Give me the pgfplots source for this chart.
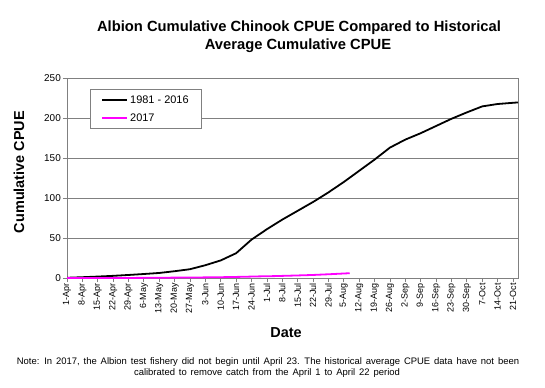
\documentclass[border=0pt]{standalone}
\usepackage{fontspec}
\setmainfont{Liberation Sans}
\usepackage{pgfplots}
\pgfplotsset{compat=1.18}
\definecolor{gridgray}{RGB}{128,128,128}
\definecolor{mag}{RGB}{255,0,255}
\begin{document}
\begin{tikzpicture}
\path[use as bounding box] (0bp,0bp) rectangle (545bp,-388bp);
\begin{axis}[
  at={(67bp,-278bp)}, anchor=south west,
  scale only axis, width=451bp, height=200bp,
  xmin=0, xmax=205.3, ymin=0, ymax=250,
  xtick={0,7,...,203},
  xticklabels={1-Apr,8-Apr,15-Apr,22-Apr,29-Apr,6-May,13-May,20-May,27-May,3-Jun,10-Jun,17-Jun,24-Jun,1-Jul,8-Jul,15-Jul,22-Jul,29-Jul,5-Aug,12-Aug,19-Aug,26-Aug,2-Sep,9-Sep,16-Sep,23-Sep,30-Sep,7-Oct,14-Oct,21-Oct},
  ytick={0,50,...,250},
  x tick label style={rotate=90, anchor=east, font=\fontsize{9}{10}\selectfont, inner sep=1bp},
  y tick label style={font=\fontsize{10}{11}\selectfont, inner sep=2bp},
  /pgf/number format/assume math mode=true,
  tick align=outside, xtick pos=left, ytick pos=left,
  major tick length=4bp,
  tick style={gridgray, line width=0.8bp},
  axis line style={gridgray, line width=0.8bp},
  ymajorgrids, grid style={gridgray, line width=0.8bp},
  legend style={at={(0.051,0.945)}, anchor=north west, draw=gridgray, line width=0.8bp,
    font=\fontsize{11}{13}\selectfont, row sep=5bp, inner xsep=11bp, inner ysep=4bp},
  legend cell align=left,
  legend image code/.code={\draw[#1] (0bp,0bp) -- (25bp,0bp);},
]
\addplot[black, line width=1.8bp] coordinates {
(0,0.3) (7,1) (14,1.8) (21,2.7) (28,3.8) (35,5) (42,6.3) (49,8.5) (56,11)
(63,16) (70,22) (77,31) (84,48) (91,61) (98,73) (105,84) (112,95) (119,107)
(126,120) (133,134) (140,148) (147,163) (154,173) (161,181) (168,190)
(175,199) (182,207) (189,214.5) (196,217.5) (203,219) (205.3,219.5)};
\addlegendentry{1981 - 2016}
\addplot[mag, line width=1.8bp] coordinates {
(0,0) (22,0) (30,0.1) (40,0.3) (50,0.5) (60,0.7) (70,1.0) (80,1.5) (87,2.0)
(95,2.4) (105,3.2) (112,3.8) (120,4.8) (128.7,6.0)};
\addlegendentry{2017}
\end{axis}
\node[anchor=base, font=\bfseries\fontsize{14.8}{17}\selectfont, inner sep=0pt] at (299bp,-31.7bp) {Albion Cumulative Chinook CPUE Compared to Historical};
\node[anchor=base, font=\bfseries\fontsize{14.8}{17}\selectfont, inner sep=0pt] at (298bp,-49bp) {Average Cumulative CPUE};
\node[rotate=90, font=\bfseries\fontsize{14.5}{16}\selectfont, inner sep=0pt] at (19bp,-172bp) {Cumulative CPUE};
\node[font=\bfseries\fontsize{14.5}{16}\selectfont, inner sep=0pt] at (286bp,-333bp) {Date};
\node[font=\fontsize{9.5}{11}\selectfont, inner sep=0pt] at (268bp,-361.7bp) {\spaceskip=3.9bp\relax Note: In 2017, the Albion test fishery did not begin until April 23. The historical average CPUE data have not been};
\node[font=\fontsize{9.5}{11}\selectfont, inner sep=0pt] at (267bp,-373bp) {\spaceskip=3.9bp\relax calibrated to remove catch from the April 1 to April 22 period};
\end{tikzpicture}
\end{document}
